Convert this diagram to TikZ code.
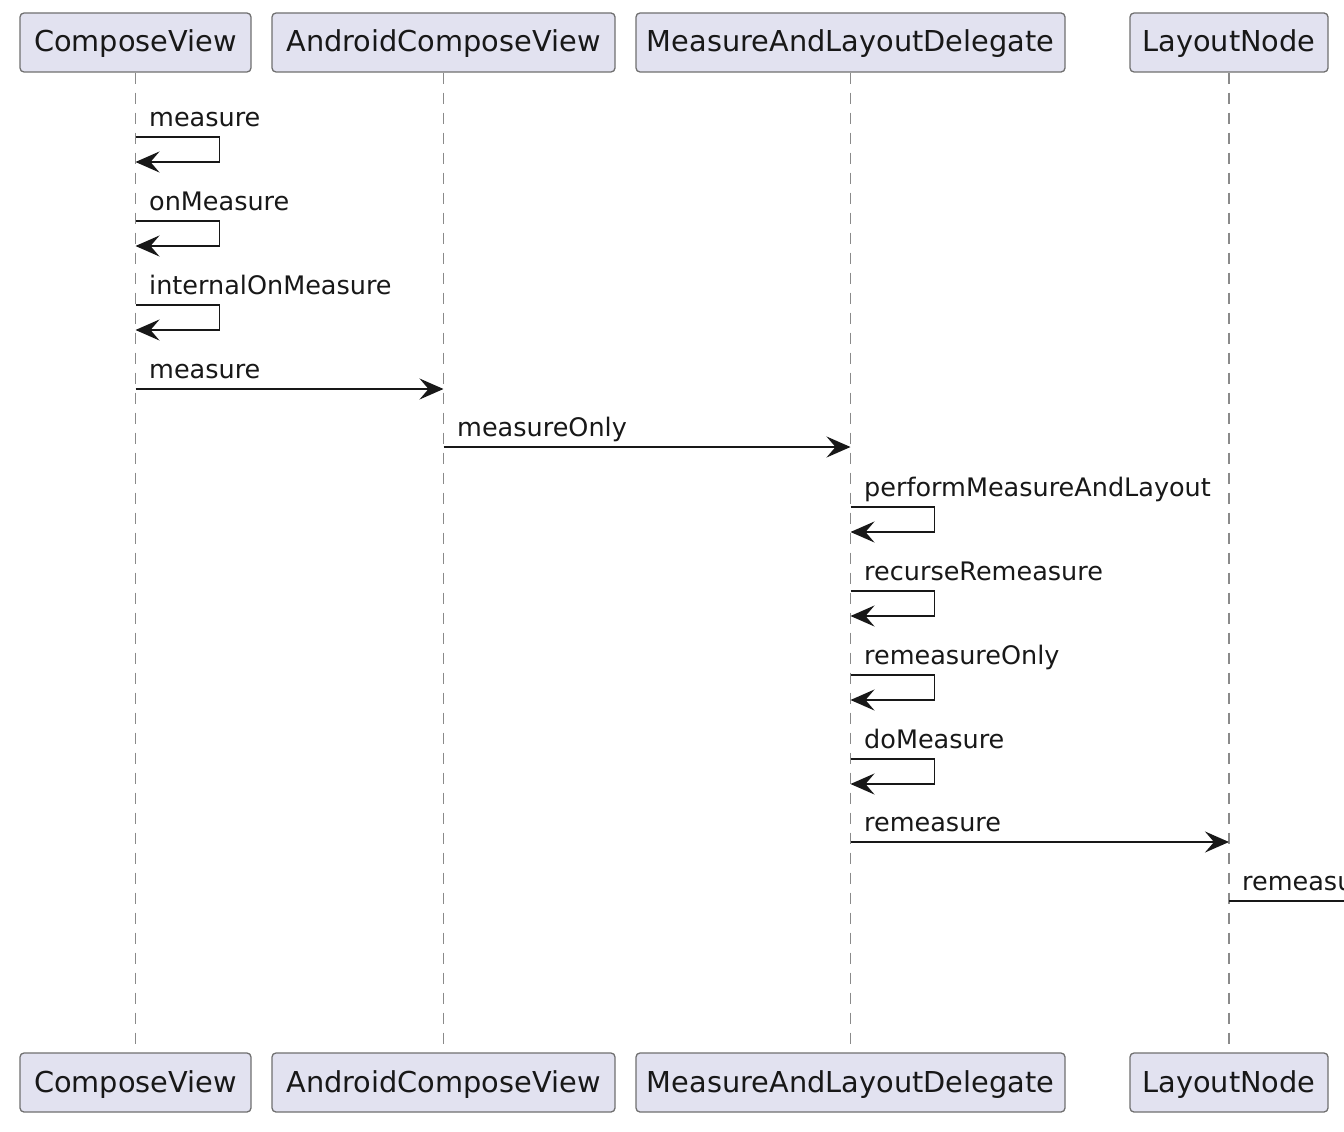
\documentclass[tikz,border=0pt]{standalone}
\usepackage{fontspec}
\setmainfont{DejaVu Sans}
\usetikzlibrary{arrows.meta}
\definecolor{partfill}{HTML}{E2E2F0}
\definecolor{partdraw}{HTML}{707070}
\definecolor{ink}{HTML}{181818}
\definecolor{lifec}{HTML}{8A8A8A}
\tikzset{
  part/.style={draw=partdraw, fill=partfill, line width=1.3pt, rounded corners=4pt,
    minimum height=59pt, inner xsep=0pt, text height=20pt, text depth=1pt,
    font=\fontsize{28.8}{32}\selectfont, text=ink},
  life/.style={draw=lifec, line width=1.5pt, dash pattern=on 11pt off 9pt},
  msg/.style={draw=ink, line width=1.8pt, -{Stealth[length=24pt,width=21pt,inset=9pt]}},
  lbl/.style={anchor=base west, inner sep=0pt, font=\fontsize{25.5}{30}\selectfont, text=ink}
}
\begin{document}
\begin{tikzpicture}[x=1pt,y=-1pt]
\path[use as bounding box, fill=white] (0,0) rectangle (1344,1132);
\clip (0,0) rectangle (1344,1132);
% participants
\node[part, minimum width=231pt] (ctop) at (135.5,42.5) {ComposeView};
\node[part, minimum width=343pt] (atop) at (443.5,42.5) {AndroidComposeView};
\node[part, minimum width=429pt] (mtop) at (850.5,42.5) {MeasureAndLayoutDelegate};
\node[part, minimum width=198pt] (ltop) at (1229,42.5) {LayoutNode};
\node[part, minimum width=231pt] (cbot) at (135.5,1082.5) {ComposeView};
\node[part, minimum width=343pt] (abot) at (443.5,1082.5) {AndroidComposeView};
\node[part, minimum width=429pt] (mbot) at (850.5,1082.5) {MeasureAndLayoutDelegate};
\node[part, minimum width=198pt] (lbot) at (1229,1082.5) {LayoutNode};
% lifelines
\draw[life] (ctop.south) -- (cbot.north);
\draw[life] (atop.south) -- (abot.north);
\draw[life] (mtop.south) -- (mbot.north);
\draw[life] (ltop.south) -- (lbot.north);
% self messages on ComposeView
\draw[msg] (ctop.south |- 0,137) -- ++(84,0) -- ++(0,25) -- ++(-84,0);
\node[lbl] (m1) at (149,126) {measure};
\draw[msg] (ctop.south |- 0,221) -- ++(84,0) -- ++(0,25) -- ++(-84,0);
\node[lbl] (m2) at (149,210) {onMeasure};
\draw[msg] (ctop.south |- 0,305) -- ++(84,0) -- ++(0,25) -- ++(-84,0);
\node[lbl] (m3) at (149,294) {internalOnMeasure};
% calls
\draw[msg] (ctop.south |- 0,389) -- (atop.south |- 0,389);
\node[lbl] (m4) at (149,378) {measure};
\draw[msg] (atop.south |- 0,447) -- (mtop.south |- 0,447);
\node[lbl] (m5) at (457,436) {measureOnly};
% self messages on MeasureAndLayoutDelegate
\draw[msg] (mtop.south |- 0,507) -- ++(84,0) -- ++(0,25) -- ++(-84,0);
\node[lbl] (m6) at (864,496) {performMeasureAndLayout};
\draw[msg] (mtop.south |- 0,591) -- ++(84,0) -- ++(0,25) -- ++(-84,0);
\node[lbl] (m7) at (864,580) {recurseRemeasure};
\draw[msg] (mtop.south |- 0,675) -- ++(84,0) -- ++(0,25) -- ++(-84,0);
\node[lbl] (m8) at (864,664) {remeasureOnly};
\draw[msg] (mtop.south |- 0,759) -- ++(84,0) -- ++(0,25) -- ++(-84,0);
\node[lbl] (m9) at (864,748) {doMeasure};
\draw[msg] (mtop.south |- 0,842) -- (ltop.south |- 0,842);
\node[lbl] (m10) at (864,831) {remeasure};
% call leaving the picture on the right
\coordinate (offright) at (1460,901);
\draw[msg] (ltop.south |- 0,901) -- (offright);
\node[lbl] (m11) at (1242,890) {remeasure};
\end{tikzpicture}
\end{document}
